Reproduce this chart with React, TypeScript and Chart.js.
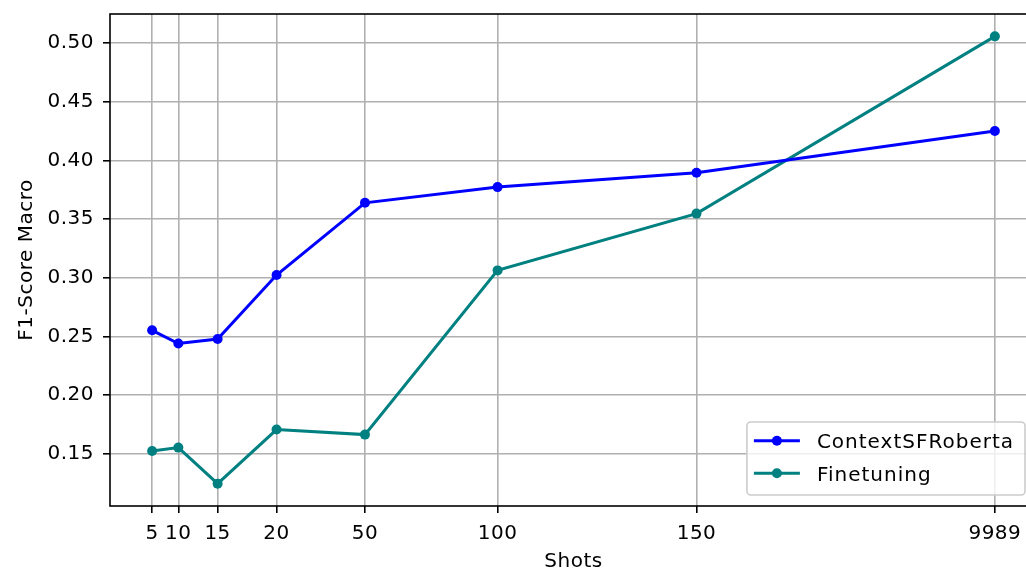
import React, { useEffect, useRef } from "react";
import { Chart, registerables } from "chart.js";

Chart.register(...registerables);

// ---- data ----
const shots = ["5", "10", "15", "20", "50", "100", "150", "9989"];
const contextSFRoberta = [0.2551, 0.2438, 0.2477, 0.3022, 0.3638, 0.3772, 0.3894, 0.425];
const finetuning = [0.1522, 0.1551, 0.1244, 0.1705, 0.1662, 0.3062, 0.3546, 0.5057];
const yTicks = [0.15, 0.2, 0.25, 0.3, 0.35, 0.4, 0.45, 0.5];
const seriesLabels = ["ContextSFRoberta", "Finetuning"];
const seriesColors = ["#0000ff", "#008080"];
const xAxisTitle = "Shots";
const yAxisTitle = "F1-Score Macro";
// the x axis spaces successive shot counts geometrically
const xSpacing = 1.5;

const FONT = "'DejaVu Sans', 'Liberation Sans', sans-serif";
const FS = 20;

const xPos = shots.map((_, i) => Math.pow(xSpacing, i));

function margins(vals: number[]) {
  const lo = Math.min(...vals);
  const hi = Math.max(...vals);
  const pad = (hi - lo) * 0.05;
  return [lo - pad, hi + pad];
}

const spacingPlugin = {
  id: "textSpacing",
  beforeDraw(chart: any) {
    (chart.ctx as any).letterSpacing = "0.5px";
  },
};

const framePlugin = {
  id: "frameAndLegend",
  afterDatasetsDraw(chart: any) {
    const { ctx, chartArea: a } = chart;
    ctx.save();
    // axes frame
    ctx.strokeStyle = "#000";
    ctx.lineWidth = 1.6;
    ctx.strokeRect(a.left, a.top, a.right - a.left, a.bottom - a.top);

    // legend (lower right)
    ctx.font = `${FS}px ${FONT}`;
    (ctx as any).letterSpacing = "1px";
    const textW = Math.max(...seriesLabels.map((l) => ctx.measureText(l).width));
    const boxW = 70 + textW + 11;
    const boxH = 73;
    const boxRight = a.right - 12;
    const boxBottom = a.bottom - 11;
    const bx = boxRight - boxW;
    const by = boxBottom - boxH;
    const r = 4;
    ctx.beginPath();
    ctx.moveTo(bx + r, by);
    ctx.lineTo(bx + boxW - r, by);
    ctx.arcTo(bx + boxW, by, bx + boxW, by + r, r);
    ctx.lineTo(bx + boxW, by + boxH - r);
    ctx.arcTo(bx + boxW, by + boxH, bx + boxW - r, by + boxH, r);
    ctx.lineTo(bx + r, by + boxH);
    ctx.arcTo(bx, by + boxH, bx, by + boxH - r, r);
    ctx.lineTo(bx, by + r);
    ctx.arcTo(bx, by, bx + r, by, r);
    ctx.closePath();
    ctx.fillStyle = "rgba(255,255,255,0.8)";
    ctx.fill();
    ctx.strokeStyle = "#cccccc";
    ctx.lineWidth = 1.6;
    ctx.stroke();

    const rows = [18.7, 51.3];
    seriesLabels.forEach((label, i) => {
      const cy = by + rows[i];
      ctx.strokeStyle = seriesColors[i];
      ctx.lineWidth = 3;
      ctx.beginPath();
      ctx.moveTo(bx + 7, cy);
      ctx.lineTo(bx + 53, cy);
      ctx.stroke();
      ctx.fillStyle = seriesColors[i];
      ctx.beginPath();
      ctx.arc(bx + 30, cy, 5, 0, Math.PI * 2);
      ctx.fill();
      ctx.fillStyle = "#000";
      ctx.textAlign = "left";
      ctx.textBaseline = "alphabetic";
      ctx.fillText(label, bx + 70, cy + 7.5);
    });
    ctx.restore();
  },
};

export default function App() {
  const ref = useRef<HTMLCanvasElement | null>(null);

  useEffect(() => {
    if (!ref.current) return;
    const [xMin, xMax] = margins(xPos);
    const [yMin, yMax] = margins([...contextSFRoberta, ...finetuning]);
    const series = [contextSFRoberta, finetuning];
    const font = { family: FONT, size: FS };

    const chart = new Chart(ref.current, {
      type: "line",
      data: {
        datasets: series.map((vals, i) => ({
          label: seriesLabels[i],
          data: vals.map((v, j) => ({ x: xPos[j], y: v })),
          borderColor: seriesColors[i],
          backgroundColor: seriesColors[i],
          pointBackgroundColor: seriesColors[i],
          pointBorderWidth: 0,
          pointRadius: 5,
          borderWidth: 3,
          tension: 0,
          fill: false,
        })),
      },
      options: {
        animation: false,
        responsive: false,
        devicePixelRatio: 1,
        layout: { padding: { top: 14, right: 23, left: 0, bottom: 0 } },
        plugins: { legend: { display: false }, tooltip: { enabled: false } },
        scales: {
          x: {
            type: "linear",
            min: xMin,
            max: xMax,
            afterBuildTicks: (s: any) => {
              s.ticks = xPos.map((v) => ({ value: v }));
            },
            afterFit: (s: any) => {
              s.height = 66;
              s.paddingLeft = 0;
              s.paddingRight = 0;
            },
            ticks: {
              autoSkip: false,
              maxRotation: 0,
              color: "#000",
              font,
              padding: 9,
              callback: (value: any) => {
                const i = xPos.findIndex((p) => Math.abs(p - Number(value)) < 1e-9);
                return i >= 0 ? shots[i] : "";
              },
            },
            grid: {
              color: "#b0b0b0",
              lineWidth: 1.6,
              tickLength: 7,
              tickColor: "#000",
              tickWidth: 1.6,
            },
            border: { display: false },
            title: {
              display: true,
              text: xAxisTitle,
              color: "#000",
              font: { family: FONT, size: FS, lineHeight: 1 },
              padding: { top: 0, bottom: 0 },
            },
          },
          y: {
            type: "linear",
            min: yMin,
            max: yMax,
            afterBuildTicks: (s: any) => {
              s.ticks = yTicks.map((v) => ({ value: v }));
            },
            afterFit: (s: any) => {
              s.width = 110;
              s.paddingTop = 0;
              s.paddingBottom = 0;
            },
            ticks: {
              color: "#000",
              font,
              padding: 9,
              callback: (value: any) => Number(value).toFixed(2),
            },
            grid: {
              color: "#b0b0b0",
              lineWidth: 1.6,
              tickLength: 7,
              tickColor: "#000",
              tickWidth: 1.6,
            },
            border: { display: false },
            title: {
              display: true,
              text: yAxisTitle,
              color: "#000",
              font: { family: FONT, size: FS, lineHeight: 1 },
              padding: { top: 17, bottom: 0 },
            },
          },
        },
      },
      plugins: [spacingPlugin, framePlugin],
    } as any);

    return () => chart.destroy();
  }, []);

  return (
    <div
      style={{
        position: "fixed",
        left: 0,
        top: 0,
        width: 1026,
        height: 572,
        overflow: "hidden",
        background: "#fff",
      }}
    >
      <canvas ref={ref} width={1060} height={572} style={{ width: 1060, height: 572 }} />
    </div>
  );
}
